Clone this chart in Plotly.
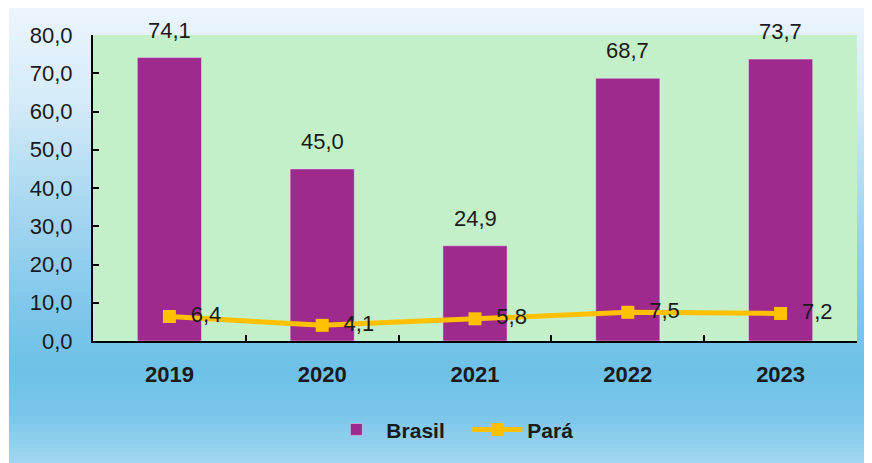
import plotly.graph_objects as go

# data
anos = ['2019', '2020', '2021', '2022', '2023']
brasil = [74.1, 45.0, 24.9, 68.7, 73.7]
para = [6.4, 4.1, 5.8, 7.5, 7.2]

# page body adds 8px margin, so the figure is laid out in window px minus 8
OFF = 8
W, H = 864, 455
ML, MR, MT, MB = 85, 15, 27, 122
pw = W - ML - MR
ph = H - MT - MB

def px_x(p):
    return (p - OFF - ML) / pw

def px_y(p):
    return (H - MB - (p - OFF)) / ph

# background gradient stops (window pixel y, rgb)
stops = [(6, (236, 245, 253)), (100, (213, 235, 249)), (200, (170, 216, 241)),
         (300, (130, 200, 235)), (370, (110, 193, 231)), (415, (122, 198, 234)),
         (463, (162, 215, 241))]

def color_at(y):
    for (y0, c0), (y1, c1) in zip(stops[:-1], stops[1:]):
        if y0 <= y <= y1:
            t = (y - y0) / (y1 - y0)
            c = [round(a + (b - a) * t) for a, b in zip(c0, c1)]
            return 'rgb(%d,%d,%d)' % tuple(c)
    return 'rgb(%d,%d,%d)' % stops[-1][1]

shapes = []
step = 4
y = 8
while y < 463:
    y2 = min(y + step, 463)
    shapes.append(dict(type='rect', xref='paper', yref='paper', layer='below',
                       x0=px_x(9), x1=px_x(872), y0=px_y(y2), y1=px_y(y),
                       fillcolor=color_at(y + step / 2), line_width=0))
    y = y2
# plot area
shapes.append(dict(type='rect', xref='paper', yref='paper', layer='below',
                   x0=0, x1=1, y0=0, y1=1, fillcolor='#C3F0C9', line_width=0))

fig = go.Figure()
fig.add_trace(go.Bar(x=anos, y=brasil, name='Brasil', marker_color='#9E2A8E',
                     width=0.42))
fig.add_trace(go.Scatter(x=anos, y=para, name='Pará', mode='lines+markers+text',
                         line=dict(color='#FFC000', width=5),
                         marker=dict(symbol='square', size=13, color='#FFC000'),
                         texttemplate='\u00a0\u00a0%{y:.1f}', textposition='middle right',
                         textfont=dict(size=22, color='#1a1a1a'),
                         cliponaxis=False))

# bar value labels (category index positions)
annotations = []
for i, v in enumerate(brasil):
    annotations.append(dict(x=i, y=v, text=('%.1f' % v).replace('.', ','),
                            showarrow=False, yanchor='bottom', yshift=13,
                            font=dict(size=22, color='#1a1a1a')))

fig.update_layout(
    width=W, height=H,
    margin=dict(l=ML, r=MR, t=MT, b=MB),
    paper_bgcolor='white', plot_bgcolor='rgba(0,0,0,0)',
    separators=',.',
    font=dict(family='Liberation Sans, Arial, sans-serif', size=22, color='#1a1a1a'),
    shapes=shapes, annotations=annotations,
    showlegend=True,
    legend=dict(orientation='h', x=0.49, xanchor='center', y=-0.29, yanchor='middle',
                font=dict(size=21, color='#1a1a1a', weight='bold'),
                bgcolor='rgba(0,0,0,0)', itemwidth=50, entrywidth=76),
)
fig.update_xaxes(type='category', range=[-0.5, 4.5], showline=True, linecolor='black',
                 linewidth=2, ticks='inside', tickson='boundaries', ticklen=6,
                 tickwidth=2, tickcolor='black', showgrid=False, ticklabelstandoff=13,
                 tickfont=dict(size=22, weight='bold', color='#1a1a1a'))
fig.update_yaxes(range=[0, 80], dtick=10, tickformat='.1f', showline=True,
                 linecolor='black', linewidth=2, ticks='inside', ticklen=6,
                 tickwidth=2, tickcolor='black', showgrid=False, zeroline=False,
                 ticklabelstandoff=14, tickfont=dict(size=22, color='#1a1a1a'))

fig.write_html('out.html')
